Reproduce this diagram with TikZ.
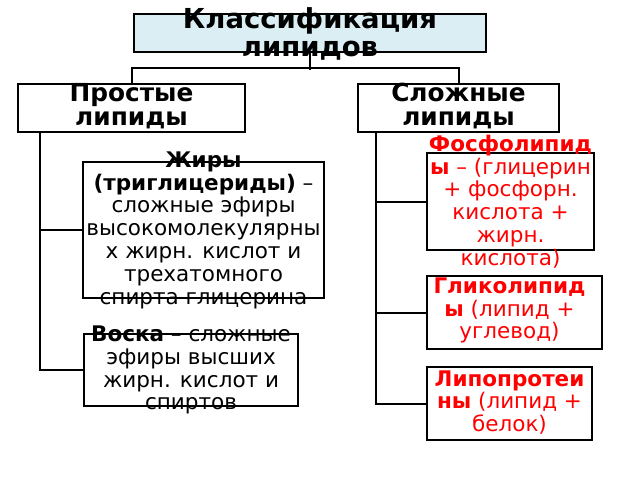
\documentclass[tikz,border=0pt]{standalone}
\usepackage{fontspec}
\setmainfont{DejaVu Sans}
\definecolor{titlefill}{RGB}{219,238,244}
\definecolor{redtext}{RGB}{255,0,0}
\begin{document}
\begin{tikzpicture}[x=1pt,y=-1pt,
  box/.style={draw=black, line width=2pt, inner sep=0pt, anchor=north west},
  txt/.style={inner sep=0pt, align=center},
  body/.style={txt, font=\fontsize{21.5}{22.8}\selectfont},
  head/.style={txt, font=\fontsize{24.8}{24}\selectfont\bfseries},
  conn/.style={draw=black, line width=2pt}]
\useasboundingbox (0,0) rectangle (640,480);
% boxes
\node[box, fill=titlefill, minimum width=352, minimum height=38] (title) at (133,13) {};
\node[box, minimum width=227, minimum height=48] (simple) at (17,83) {};
\node[box, minimum width=201, minimum height=48] (complex) at (357,83) {};
\node[box, minimum width=241, minimum height=136] (fats) at (82,161) {};
\node[box, minimum width=214, minimum height=72] (wax) at (83,333) {};
\node[box, minimum width=167, minimum height=97] (phospho) at (426,152) {};
\node[box, minimum width=175, minimum height=73] (glyco) at (426,275) {};
\node[box, minimum width=165, minimum height=73] (lipo) at (426,366) {};
% connectors
\draw[conn] (title.south) -- ++(0,17);
\draw[conn] (simple.north) -- ++(0,-15) -| (complex.north);
\draw[conn] ([xshift=23]simple.south west) |- (wax.west);
\draw[conn] ([xshift=23]simple.south west |- fats.west) -- (fats.west);
\draw[conn] ([xshift=19]complex.south west) |- (lipo.west);
\draw[conn] ([xshift=19]complex.south west |- phospho.west) -- (phospho.west);
\draw[conn] ([xshift=19]complex.south west |- glyco.west) -- (glyco.west);
% texts
\node[txt, font=\fontsize{27.5}{28}\selectfont\bfseries] (ttitle) at ([yshift=-1]title.center) {Классификация\\липидов};
\node[head] (tsimple) at ([yshift=2]simple.center) {Простые\\липиды};
\node[head] (tcomplex) at ([yshift=2]complex.center) {Сложные\\липиды};
\node[body] (tfats) at (fats.center) {\textbf{Жиры}\\\textbf{(триглицериды)} –\\сложные эфиры\\высокомолекулярны\\х жирн. кислот и\\трехатомного\\спирта глицерина};
\node[body] (twax) at (wax.center) {\textbf{Воска} – сложные\\эфиры высших\\жирн. кислот и\\спиртов};
\node[body, text=redtext] (tphospho) at (phospho.center) {\textbf{Фосфолипид}\\\textbf{ы} – (глицерин\\+ фосфорн.\\кислота +\\жирн.\\кислота)};
\node[body, text=redtext] (tglyco) at ([xshift=-5,yshift=2]glyco.center) {\textbf{Гликолипид}\\\textbf{ы} (липид +\\углевод)};
\node[body, text=redtext] (tlipo) at ([yshift=1]lipo.center) {\textbf{Липопротеи}\\\textbf{ны} (липид +\\белок)};
\end{tikzpicture}
\end{document}
